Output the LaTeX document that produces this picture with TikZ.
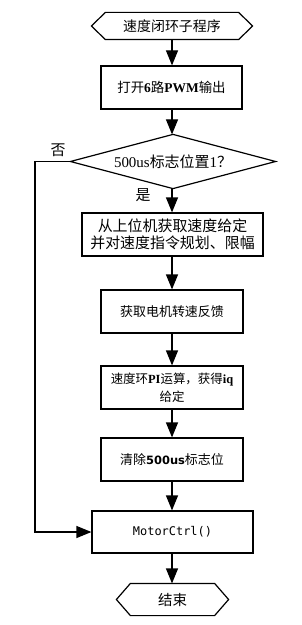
\documentclass[tikz,border=0pt]{standalone}
\usepackage{fontspec}
\setmainfont{Liberation Serif}
\newfontfamily\cjk{Noto Sans CJK SC}
\newfontfamily\sansb{DejaVu Sans}
\newfontfamily\monof{DejaVu Sans Mono}
\usetikzlibrary{arrows.meta,calc}
\begin{document}
\begin{tikzpicture}[x=1bp,y=-1bp,
  line width=1.2bp,
  box/.style={draw,rectangle,inner sep=0pt,align=center},
  shapebox/.style={rectangle,inner sep=0pt,align=center},
  arr/.style={-{Triangle[length=15bp,width=12bp]}},
  fs/.style={font=\fontsize{#1}{18}\selectfont}
]
\useasboundingbox (0,0) rectangle (301,625);
\fill[white] (0,0) rectangle (301,625);

% start terminal (hexagon)
\node[shapebox,minimum width=160bp,minimum height=26bp,fs=14] (s) at (172,26) {\cjk 速度闭环子程序};
\draw (s.west) -- ([xshift=14bp]s.north west) -- ([xshift=-14bp]s.north east) -- (s.east)
  -- ([xshift=-14bp]s.south east) -- ([xshift=14bp]s.south west) -- cycle;

\node[box,minimum width=141bp,minimum height=43bp,fs=13.5] (b1) at (171.5,87.5)
  {{\cjk 打开}\textbf{6}{\cjk 路}\textbf{PWM}{\cjk 输出}};

% decision
\node[shapebox,minimum width=204bp,minimum height=53bp,fs=15] (d) at (173,161.5)
  {500us{\cjk 标志位置}1{\cjk ？}};
\draw (d.west) -- (d.north) -- (d.east) -- (d.south) -- cycle;

\node[box,minimum width=181bp,minimum height=43bp,fs=15] (b2) at (172.5,234.5)
  {\cjk 从上位机获取速度给定\\[-1bp]\cjk 并对速度指令规划、限幅};

\node[box,minimum width=142bp,minimum height=43bp,fs=13] (b3) at (172,311.5)
  {\cjk 获取电机转速反馈};

\node[box,minimum width=142bp,minimum height=43bp,fs=12.5] (b4) at (172,387.5)
  {{\cjk 速度环}\textbf{PI}{\cjk 运算，获得}\textbf{iq}\\{\cjk 给定}};

\node[box,minimum width=142bp,minimum height=43bp,fs=13] (b5) at (172,459.5)
  {{\cjk 清除}{\sansb\bfseries\fontsize{11.5}{14}\selectfont 500us}{\cjk 标志位}};

\node[box,minimum width=161bp,minimum height=42bp,font=\monof\fontsize{12}{15}\selectfont] (b6) at (172.5,532)
  {MotorCtrl()};

% end terminal (hexagon)
\node[shapebox,minimum width=111bp,minimum height=31bp,fs=14.5] (e) at (172.5,599.5) {\cjk 结束};
\draw (e.west) -- ([xshift=14bp]e.north west) -- ([xshift=-14bp]e.north east) -- (e.east)
  -- ([xshift=-14bp]e.south east) -- ([xshift=14bp]e.south west) -- cycle;

% connectors
\coordinate (x0) at (172,0);
\draw[arr] (s.south -| x0) -- (b1.north -| x0);
\draw[arr] (b1.south -| x0) -- (d.north -| x0);
\draw[arr] (d.south -| x0) -- (b2.north -| x0);
\draw[arr] (b2.south -| x0) -- (b3.north -| x0);
\draw[arr] (b3.south -| x0) -- (b4.north -| x0);
\draw[arr] (b4.south -| x0) -- (b5.north -| x0);
\draw[arr] (b5.south -| x0) -- (b6.north -| x0);
\draw[arr] (b6.south -| x0) -- (e.north -| x0);

\coordinate (lx) at (35,0);
\draw[arr] (d.west) -- (d.west -| lx) -- (b6.west -| lx) -- (b6.west);

% labels
\node[fs=15,inner sep=0pt] (no) at (58,150) {\cjk 否};
\node[fs=15,inner sep=0pt] (yes) at (143,195) {\cjk 是};
\end{tikzpicture}
\end{document}
